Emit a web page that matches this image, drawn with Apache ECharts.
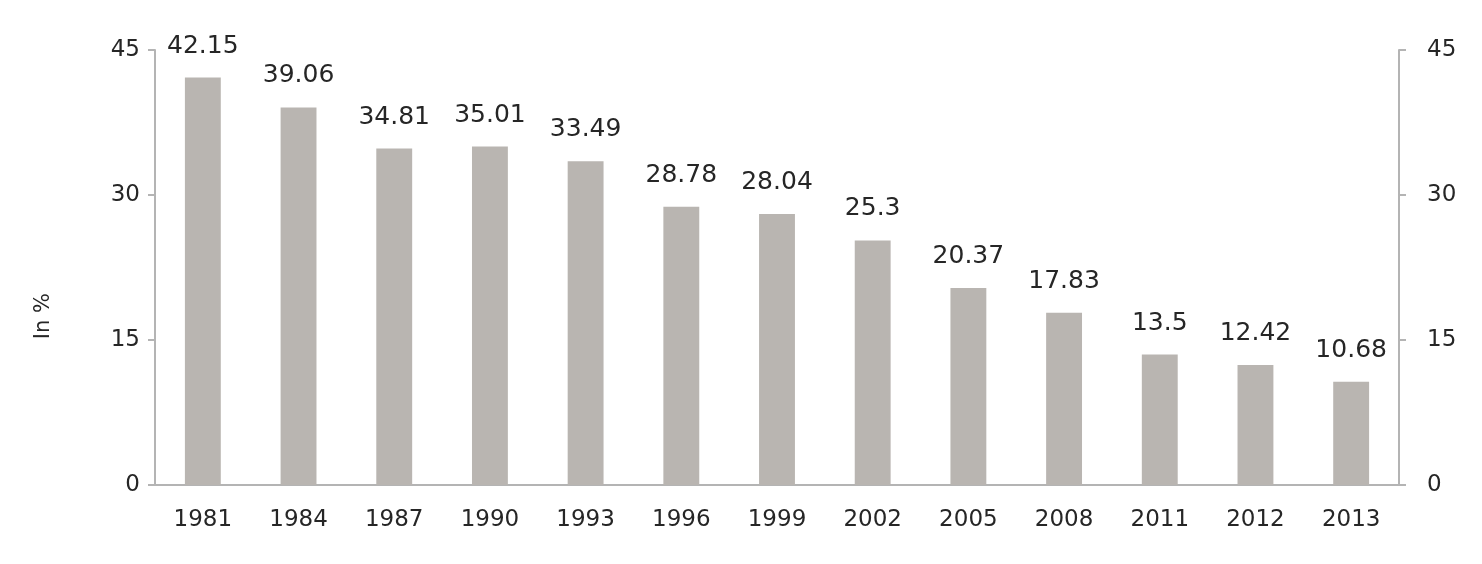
<!DOCTYPE html>
<html>
<head>
<meta charset="utf-8">
<script src="https://cdn.jsdelivr.net/npm/echarts@6/dist/echarts.min.js"></script>
<style>
  html, body { margin: 0; padding: 0; background: #fff; }
  #chart { width: 1482px; height: 564px; }
</style>
</head>
<body>
<div id="chart"></div>
<script>
// years and share (in %)
const years = ['1981', '1984', '1987', '1990', '1993', '1996', '1999', '2002', '2005', '2008', '2011', '2012', '2013'];
const shares = [42.15, 39.06, 34.81, 35.01, 33.49, 28.78, 28.04, 25.3, 20.37, 17.83, 13.5, 12.42, 10.68];
const yTicks = [0, 15, 30, 45];

const font = 'DejaVu Sans';
const textColor = '#262626';
const axisColor = '#b4b4b4';

const chart = echarts.init(document.getElementById('chart'));

const yAxisBase = (position) => ({
  type: 'value',
  position,
  min: yTicks[0],
  max: yTicks[yTicks.length - 1],
  interval: yTicks[1] - yTicks[0],
  axisLine: { show: true, lineStyle: { color: axisColor, width: 2 } },
  axisTick: { show: true, length: 7, lineStyle: { color: axisColor, width: 2 } },
  axisLabel: { color: textColor, fontFamily: font, fontSize: 23, margin: position === 'left' ? 15 : 28 },
  splitLine: { show: false },
});

chart.setOption({
  animation: false,
  grid: { left: 155, right: 83, top: 50, bottom: 79 },
  xAxis: {
    type: 'category',
    data: years,
    axisLine: { show: true, lineStyle: { color: axisColor, width: 2 } },
    axisTick: { show: false },
    axisLabel: { color: textColor, fontFamily: font, fontSize: 23, margin: 24 },
  },
  yAxis: [yAxisBase('left'), yAxisBase('right')],
  graphic: [{
    type: 'text',
    left: 33,
    top: 293,
    rotation: Math.PI / 2,
    style: { text: 'In %', fill: textColor, font: '21px "DejaVu Sans"' },
  }],
  series: [{
    type: 'bar',
    data: shares,
    barWidth: '37.5%',
    itemStyle: { color: '#b9b5b1' },
    label: {
      show: true,
      position: 'top',
      distance: 19,
      color: textColor,
      fontFamily: font,
      fontSize: 25,
      letterSpacing: 1.5,
    },
  }],
});
</script>
</body>
</html>
